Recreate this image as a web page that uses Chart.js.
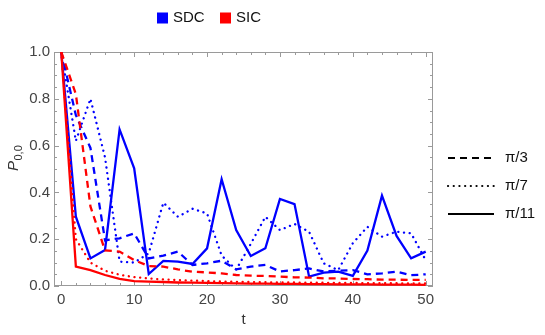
<!DOCTYPE html>
<html>
<head>
<meta charset="utf-8">
<script src="https://cdn.jsdelivr.net/npm/chart.js@4.4.0/dist/chart.umd.min.js"></script>
<style>
  html, body { margin: 0; padding: 0; background: #fff; }
  #caja { width: 545px; height: 335px; position: relative; }
</style>
</head>
<body>
<div id="caja"><canvas id="grafica"></canvas></div>
<script>
// ------------- Datos de la grafica -------------
const tiempos = [0, 2, 4, 6, 8, 10, 12, 14, 16, 18, 20, 22, 24, 26, 28, 30, 32, 34, 36, 38, 40, 42, 44, 46, 48, 50];

// SDC (azul)
const sdcPi3 = [1.0, 0.73, 0.59, 0.195, 0.204, 0.225, 0.118, 0.13, 0.147, 0.09, 0.097, 0.108, 0.071, 0.083, 0.09, 0.062, 0.068, 0.075, 0.062, 0.065, 0.068, 0.05, 0.054, 0.061, 0.046, 0.05];
const sdcPi7 = [1.0, 0.62, 0.80, 0.55, 0.104, 0.10, 0.14, 0.356, 0.296, 0.33, 0.31, 0.13, 0.07, 0.18, 0.296, 0.239, 0.265, 0.232, 0.097, 0.068, 0.183, 0.253, 0.211, 0.232, 0.225, 0.11];
const sdcPi11 = [1.0, 0.296, 0.118, 0.154, 0.669, 0.503, 0.051, 0.107, 0.104, 0.094, 0.161, 0.456, 0.239, 0.128, 0.161, 0.372, 0.350, 0.040, 0.057, 0.061, 0.043, 0.151, 0.386, 0.214, 0.118, 0.147];

// SIC (rojo)
const sicPi3 = [1.0, 0.82, 0.34, 0.152, 0.147, 0.111, 0.085, 0.083, 0.071, 0.061, 0.058, 0.054, 0.047, 0.044, 0.043, 0.040, 0.037, 0.036, 0.033, 0.032, 0.030, 0.029, 0.027, 0.027, 0.026, 0.026];
const sicPi7 = [1.0, 0.20, 0.10, 0.065, 0.048, 0.038, 0.032, 0.028, 0.025, 0.023, 0.021, 0.019, 0.018, 0.017, 0.016, 0.015, 0.015, 0.014, 0.014, 0.013, 0.013, 0.012, 0.012, 0.012, 0.011, 0.011];
const sicPi11 = [1.0, 0.083, 0.068, 0.047, 0.030, 0.021, 0.019, 0.017, 0.015, 0.014, 0.013, 0.012, 0.011, 0.010, 0.010, 0.009, 0.009, 0.008, 0.008, 0.007, 0.007, 0.007, 0.006, 0.006, 0.006, 0.005];

// ticks
const ticksX = [0, 10, 20, 30, 40, 50];
const ticksY = [0, 0.2, 0.4, 0.6, 0.8, 1.0];

const leyendaColores = ['SDC', 'SIC'];
const leyendaEstilos = ['π/3', 'π/7', 'π/11'];

const azul = '#0000ff';
const rojo = '#ff0000';
const fuente = "'Liberation Sans', Arial, sans-serif";

// estilos de linea
const guion = [7, 5];
const punto = [0.1, 5.6];

const puntos = (arr) => tiempos.map((t, i) => ({ x: t, y: arr[i] }));

const serie = (datos, color, dash) => ({
  data: puntos(datos),
  borderColor: color,
  borderWidth: 2.3,
  borderDash: dash,
  borderCapStyle: dash === punto ? 'round' : 'butt',
  pointRadius: 0,
  tension: 0,
  fill: false
});

// ------------- Plugin marco + ticks + leyendas -------------
const marcoPlugin = {
  id: 'marco',
  beforeDatasetsDraw(chart) {
    const ctx = chart.ctx, a = chart.chartArea;
    const sx = chart.scales.x, sy = chart.scales.y;
    ctx.save();
    ctx.strokeStyle = '#9a9a9a';
    ctx.lineWidth = 1;
    ctx.strokeRect(a.left + 0.5, a.top + 0.5, a.right - a.left - 1, a.bottom - a.top - 1);

    ctx.beginPath();
    for (let t = 0; t <= 50; t += 2) {
      const largo = t % 10 === 0 ? 5 : 3;
      const px = Math.round(sx.getPixelForValue(t)) + 0.5;
      ctx.moveTo(px, a.bottom); ctx.lineTo(px, a.bottom - largo);
      ctx.moveTo(px, a.top); ctx.lineTo(px, a.top + largo);
    }
    for (let i = 0; i <= 20; i++) {
      const largo = i % 4 === 0 ? 5 : 3;
      const py = Math.round(sy.getPixelForValue(i * 0.05)) + 0.5;
      ctx.moveTo(a.left, py); ctx.lineTo(a.left + largo, py);
      ctx.moveTo(a.right, py); ctx.lineTo(a.right - largo, py);
    }
    ctx.stroke();
    ctx.restore();
  },
  afterDraw(chart) {
    const ctx = chart.ctx, a = chart.chartArea;
    ctx.save();

    // leyenda de colores arriba
    ctx.font = '15px ' + fuente;
    ctx.textBaseline = 'middle';
    ctx.fillStyle = azul;
    ctx.fillRect(157, 12.5, 11, 11);
    ctx.fillStyle = '#111';
    ctx.fillText(leyendaColores[0], 173, 18);
    ctx.fillStyle = rojo;
    ctx.fillRect(220, 12.5, 11, 11);
    ctx.fillStyle = '#111';
    ctx.fillText(leyendaColores[1], 236, 18);

    // leyenda de estilos a la derecha
    const estilos = [guion, [0.1, 5.6], []];
    const ys = [158, 186, 214];
    for (let i = 0; i < 3; i++) {
      ctx.beginPath();
      ctx.strokeStyle = '#000';
      ctx.lineWidth = 2.2;
      ctx.setLineDash(estilos[i]);
      ctx.lineCap = i === 1 ? 'round' : 'butt';
      ctx.moveTo(448, ys[i]);
      ctx.lineTo(494, ys[i]);
      ctx.stroke();
      ctx.setLineDash([]);
      ctx.fillStyle = '#111';
      ctx.fillText(leyendaEstilos[i], 505, ys[i]);
    }

    // titulo eje x
    ctx.fillStyle = '#333';
    ctx.textAlign = 'center';
    ctx.textBaseline = 'alphabetic';
    ctx.fillText('t', (a.left + a.right) / 2, 324);

    // titulo eje y  P_{0,0}
    ctx.translate(18, 171);
    ctx.rotate(-Math.PI / 2);
    ctx.textAlign = 'left';
    ctx.font = 'italic 15px ' + fuente;
    ctx.fillText('P', 0, 0);
    const anchoP = ctx.measureText('P').width;
    ctx.font = '11px ' + fuente;
    ctx.fillText('0,0', anchoP + 0.5, 4);
    ctx.restore();
  }
};

// ------------- Crear la grafica -------------
const config = {
  type: 'line',
  data: {
    datasets: [
      serie(sicPi11, rojo, []),
      serie(sicPi3, rojo, guion),
      serie(sicPi7, rojo, punto),
      serie(sdcPi11, azul, []),
      serie(sdcPi3, azul, guion),
      serie(sdcPi7, azul, punto)
    ]
  },
  options: {
    responsive: true,
    maintainAspectRatio: false,
    animation: false,
    layout: { padding: { top: 52, right: 112, left: 0, bottom: 0 } },
    plugins: {
      legend: { display: false },
      tooltip: { enabled: false }
    },
    scales: {
      x: {
        type: 'linear',
        min: -1,
        max: 51,
        grid: { display: false, drawTicks: false },
        border: { display: false },
        afterBuildTicks: (s) => { s.ticks = ticksX.map(v => ({ value: v })); },
        afterFit: (s) => { s.height = 49; },
        ticks: {
          padding: 5,
          color: '#444',
          font: { size: 15, family: fuente },
          maxRotation: 0
        }
      },
      y: {
        min: 0,
        max: 1,
        grid: { display: false, drawTicks: false },
        border: { display: false },
        afterBuildTicks: (s) => { s.ticks = ticksY.map(v => ({ value: v })); },
        afterFit: (s) => { s.width = 54; },
        ticks: {
          padding: 4,
          color: '#444',
          font: { size: 15, family: fuente },
          callback: (v) => Number(v).toFixed(1)
        }
      }
    }
  },
  plugins: [marcoPlugin]
};

new Chart(document.getElementById('grafica'), config);
</script>
</body>
</html>
